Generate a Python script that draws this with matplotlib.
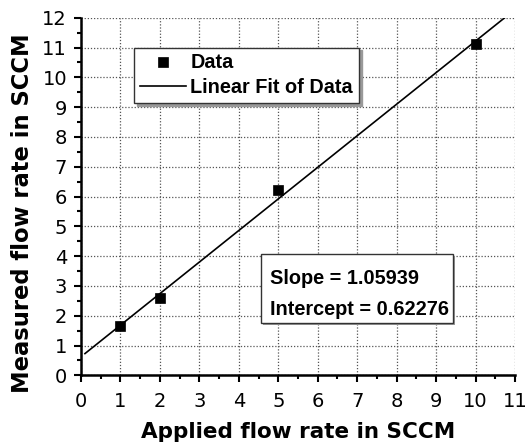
import matplotlib
matplotlib.use("Agg")
import matplotlib.pyplot as plt
import numpy as np
from matplotlib.ticker import MultipleLocator
from matplotlib.patches import Rectangle

applied = [1, 2, 5, 10]
measured = [1.67, 2.58, 6.22, 11.12]
slope = 1.05939
intercept = 0.62276
fit_x = [0.1, 10.74]
xticks = list(range(0, 12))
yticks = list(range(0, 13))

plt.rcParams['font.family'] = ['Liberation Sans', 'DejaVu Sans']

fig = plt.figure(figsize=(5.28, 4.45), dpi=100)
ax = fig.add_axes([0.1534, 0.1566, 0.8220, 0.8036])

fx = np.array(fit_x)
ax.plot(fx, slope * fx + intercept, color='black', lw=1.2, label='Linear Fit of Data', zorder=3)
ax.plot(applied, measured, 's', color='black', ms=6.6, mew=0.5, label='Data', zorder=4, linestyle='none')

ax.set_xlim(0, 11)
ax.set_ylim(0, 12)
ax.set_xticks(xticks)
ax.set_yticks(yticks)
ax.xaxis.set_minor_locator(MultipleLocator(0.5))
ax.yaxis.set_minor_locator(MultipleLocator(0.5))
ax.tick_params(which='major', direction='out', length=5, width=1.5, labelsize=14)
ax.tick_params(axis='x', which='major', pad=7)
ax.tick_params(axis='y', which='major', pad=5)
ax.tick_params(which='minor', direction='out', length=3, width=1.5)
for lab in ax.get_xticklabels() + ax.get_yticklabels():
    lab.set_family('DejaVu Sans')
for s in ['top', 'right']:
    ax.spines[s].set_visible(False)
for s in ['left', 'bottom']:
    ax.spines[s].set_linewidth(1.8)
ax.grid(True, which='major', linestyle=(0, (1, 1.5)), color='#555555', lw=0.9)

fig.text(0.5 * (140 + 457) / 528, 1 - 438 / 445, 'Applied flow rate in SCCM',
         fontsize=15.5, fontweight='bold', family='DejaVu Sans', ha='center', va='baseline')
fig.text(23 / 528, 1 - (32 + 394) / 2 / 445, 'Measured flow rate in SCCM',
         fontsize=16.3, fontweight='bold', family='DejaVu Sans', ha='center', va='center',
         rotation=90)

handles, labels = ax.get_legend_handles_labels()
leg = ax.legend([handles[1], handles[0]], [labels[1], labels[0]],
                loc='upper left', bbox_to_anchor=(1.34/11, 11.0/12),
                prop={'weight': 'bold', 'size': 14.3}, fancybox=False,
                shadow={'color': '#999999', 'alpha': 1, 'ox': 2, 'oy': -2}, framealpha=1,
                edgecolor='#333333', handlelength=2.3, borderpad=0.3,
                labelspacing=0.3, handletextpad=0.25, borderaxespad=0)
leg.get_frame().set_linewidth(1.0)

# stats box
shadow = Rectangle((4.56 + 0.05, 1.76 - 0.07), 9.42 - 4.56, 4.08 - 1.76,
                   fc='#999999', ec='none', zorder=5)
box = Rectangle((4.56, 1.76), 9.42 - 4.56, 4.08 - 1.76,
                fc='white', ec='#333333', lw=1.0, zorder=6)
ax.add_patch(shadow)
ax.add_patch(box)
ax.text(4.78, 3.07, 'Slope = %.5f' % slope, fontsize=14.3, fontweight='bold',
        va='baseline', ha='left', zorder=7)
ax.text(4.78, 2.01, 'Intercept = %.5f' % intercept, fontsize=14.3, fontweight='bold',
        va='baseline', ha='left', zorder=7)

fig.savefig('out.png', dpi=100)
